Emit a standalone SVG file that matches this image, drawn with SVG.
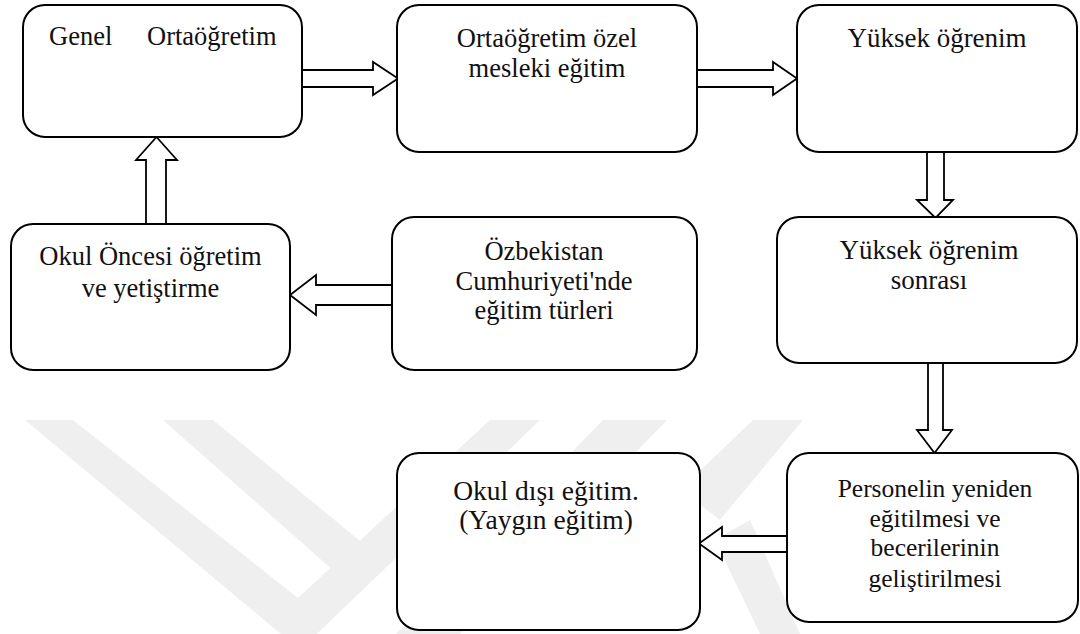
<svg xmlns="http://www.w3.org/2000/svg" width="1080" height="634" viewBox="0 0 1080 634">
  <style>
    .wm { fill: #efefef; stroke: none; }
    .box { fill: #ffffff; stroke: #000000; stroke-width: 2; }
    .arrow { fill: #ffffff; stroke: #000000; stroke-width: 1.8; stroke-linejoin: miter; }
    .t { font-size: 26.5px; fill: #111111; text-anchor: middle; }
    .big { font-size: 27.5px; }
    .mid { font-size: 27px; }
    .small { font-size: 25.5px; }
  </style>
  <rect x="0" y="0" width="1080" height="634" fill="#ffffff"/>
  <g id="watermark">
    <polygon class="wm" points="25,420 73,420 298,598 490,420 540,420 300,650"/>
    <polygon class="wm" points="163,420 213,420 365,545 335,572"/>
    <polygon class="wm" points="603,420 667,420 460,634 396,634"/>
    <polygon class="wm" points="753,420 803,420 720,520 680,490"/>
    <polygon class="wm" points="715,540 750,520 800,634 760,634"/>
  </g>
  <g id="connectors">
    <polygon class="arrow" points="302,70 373,70 373,62 398,78.5 373,95 373,87 302,87"/>
    <polygon class="arrow" points="697,70 773,70 773,62 797,78.5 773,95 773,87 697,87"/>
    <polygon class="arrow" points="927,152 944,152 944,200 953,200 935.5,218 917,200 927,200"/>
    <polygon class="arrow" points="928,363 943,363 943,430 952,430 934.5,453 917,430 928,430"/>
    <polygon class="arrow" points="787,536 722,536 722,527 699,543.5 722,560 722,552 787,552"/>
    <polygon class="arrow" points="392,285 316,285 316,275 290,295 316,315 316,305 392,305"/>
    <polygon class="arrow" points="146,224 146,160 136,160 156.5,137 177,160 166,160 166,224"/>
  </g>
  <g font-family="Liberation Serif, Times New Roman, DejaVu Serif, serif">
  <g id="genel-ortaogretim">
    <rect class="box" x="23" y="5" width="279" height="132" rx="22" ry="22"/>
    <text class="t" style="text-anchor:start" y="45"><tspan x="49">Genel</tspan><tspan x="147">Ortaöğretim</tspan></text>
  </g>
  <g id="ortaogretim-ozel">
    <rect class="box" x="397" y="5" width="300" height="147" rx="22" ry="22"/>
    <text class="t" x="547" y="47">Ortaöğretim özel</text>
    <text class="t" x="547" y="77">mesleki eğitim</text>
  </g>
  <g id="yuksek-ogrenim">
    <rect class="box" x="797" y="5" width="280" height="147" rx="22" ry="22"/>
    <text class="t mid" x="937" y="47">Yüksek öğrenim</text>
  </g>
  <g id="yuksek-ogrenim-sonrasi">
    <rect class="box" x="777" y="217" width="300" height="146" rx="22" ry="22"/>
    <text class="t mid" x="929" y="259">Yüksek öğrenim</text>
    <text class="t mid" x="929" y="289">sonrası</text>
  </g>
  <g id="ozbekistan">
    <rect class="box" x="392" y="217" width="305" height="153" rx="22" ry="22"/>
    <text class="t" x="544" y="260">Özbekistan</text>
    <text class="t" x="544" y="290">Cumhuriyeti'nde</text>
    <text class="t" x="544" y="319">eğitim türleri</text>
  </g>
  <g id="okul-oncesi">
    <rect class="box" x="11" y="224" width="279" height="146" rx="22" ry="22"/>
    <text class="t" x="150.5" y="265">Okul Öncesi öğretim</text>
    <text class="t" x="150.5" y="297">ve yetiştirme</text>
  </g>
  <g id="okul-disi">
    <rect class="box" x="397" y="453" width="303" height="177" rx="22" ry="22"/>
    <text class="t big" x="546" y="500">Okul dışı eğitim.</text>
    <text class="t big" x="546" y="529">(Yaygın eğitim)</text>
  </g>
  <g id="personelin">
    <rect class="box" x="787" y="453" width="291" height="169" rx="22" ry="22"/>
    <text class="t small" x="935" y="497">Personelin yeniden</text>
    <text class="t small" x="935" y="527">eğitilmesi ve</text>
    <text class="t small" x="935" y="556">becerilerinin</text>
    <text class="t small" x="935" y="587">geliştirilmesi</text>
  </g>
  </g>
</svg>
